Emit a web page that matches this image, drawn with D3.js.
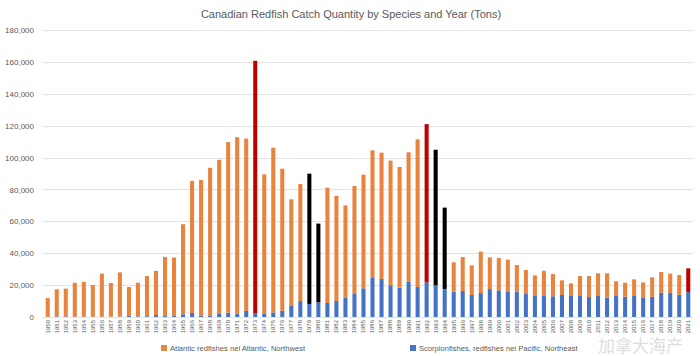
<!DOCTYPE html>
<html><head><meta charset="utf-8">
<script src="https://cdn.jsdelivr.net/npm/d3@7"></script>
<style>body{margin:0;background:#fff}svg{display:block;font-family:"Liberation Sans",Arial,sans-serif}</style>
</head><body><svg id="c" width="700" height="356"></svg>
<script>
const years = d3.range(1950, 2022).map(String);
const pacific = [100,400,400,200,200,200,200,200,300,700,400,500,1200,600,600,1700,2500,700,1000,1900,2700,2100,3800,2500,2300,2900,4000,7300,10000,8200,9200,8800,10000,12000,14400,18000,24900,23800,19900,18400,22000,18800,21700,19900,17600,15900,16300,13800,15000,17500,16700,16100,15900,14400,13600,13200,13000,13800,13200,13600,12500,13600,12100,13200,12700,13200,11900,12700,15200,15200,14000,15700];
const atlantic = [11800,17000,17400,21300,21800,19900,27000,21100,27700,18100,21100,25200,27700,37100,36700,56500,82900,85300,92600,96700,107000,110700,108100,158200,87200,103300,89000,66500,73400,81700,49400,72300,66000,58000,67800,71300,79600,79300,78200,75700,81300,92600,99300,85000,51000,18400,21300,18600,26000,19900,20300,19900,16700,15100,12500,15800,14000,9200,7900,12100,13200,13800,15300,9200,8800,10400,9800,12200,13000,12000,12300,14800];
const highlightRed = ["1973","1992","2021"];
const highlightBlack = ["1979","1980","1993","1994"];
const yTicks = [0,20000,40000,60000,80000,100000,120000,140000,160000,180000];
const seriesNames = ["Atlantic redfishes nei Atlantic, Northwest","Scorpionfishes, redfishes nei Pacific, Northeast"];
const title = "Canadian Redfish Catch Quantity by Species and Year (Tons)";

const svg = d3.select("#c");
const C_ORANGE = "#E8843E", C_BLUE = "#4472C4";
const x = d3.scaleBand().domain(years).range([43, 693]).paddingInner(0.55).paddingOuter(0.3);
const y = d3.scaleLinear().domain([0, 180000]).range([317, 30]);

svg.append("text").attr("x", 351).attr("y", 18).attr("text-anchor", "middle")
  .attr("font-size", 11).attr("fill", "#595959").text(title);

// gridlines
svg.append("g").selectAll("line").data(yTicks).join("line")
  .attr("x1", 43).attr("x2", 693).attr("y1", d => Math.round(y(d)) + 0.5).attr("y2", d => Math.round(y(d)) + 0.5)
  .attr("stroke", "#e3e3e3").attr("stroke-width", 1);

// y axis labels
const yAxis = d3.axisLeft(y).tickValues(yTicks).tickSize(0).tickPadding(0).tickFormat(d3.format(","));
const gy = svg.append("g").attr("transform", "translate(34,0)").call(yAxis);
gy.select(".domain").remove();
gy.selectAll("text").attr("font-size", 8).attr("fill", "#595959").attr("font-family", "Liberation Sans, Arial, sans-serif");

const data = years.map((yr, i) => ({year: yr, pac: pacific[i], atl: atlantic[i]}));
// pacific (bottom)
svg.append("g").selectAll("rect").data(data).join("rect")
  .attr("x", d => x(d.year)).attr("width", x.bandwidth())
  .attr("y", d => y(d.pac)).attr("height", d => y(0) - y(d.pac))
  .attr("fill", C_BLUE);
// atlantic (top)
svg.append("g").selectAll("rect").data(data).join("rect")
  .attr("x", d => x(d.year)).attr("width", x.bandwidth())
  .attr("y", d => y(d.pac + d.atl)).attr("height", d => y(d.pac) - y(d.pac + d.atl))
  .attr("fill", d => highlightRed.includes(d.year) ? "#C00000" : highlightBlack.includes(d.year) ? "#000000" : C_ORANGE);

// x axis labels
const xAxis = d3.axisBottom(x).tickSize(0).tickPadding(0);
const gx = svg.append("g").attr("transform", "translate(0,320)").call(xAxis);
gx.select(".domain").remove();
gx.selectAll(".tick text").attr("font-size", 6).attr("fill", "#595959")
  .attr("text-anchor", "end").attr("x", 0).attr("y", 0)
  .attr("transform", "rotate(-90)").attr("dy", "0.32em");

// legend
const leg = [{name: seriesNames[0], color: C_ORANGE, x: 161}, {name: seriesNames[1], color: C_BLUE, x: 410}];
const lg = svg.append("g").selectAll("g").data(leg).join("g").attr("transform", d => `translate(${d.x},345)`);
lg.append("rect").attr("width", 6).attr("height", 6).attr("fill", d => d.color);
lg.append("text").attr("x", 9).attr("y", 6.3).attr("font-size", 7.6).attr("fill", "#595959").text(d => d.name);

// watermark
svg.append("text").attr("x", 598).attr("y", 352).attr("font-size", 17)
  .attr("font-family", "Noto Sans CJK SC").attr("fill", "#c8c8c8").attr("opacity", 0.6).text("加拿大海产");
</script></body></html>
